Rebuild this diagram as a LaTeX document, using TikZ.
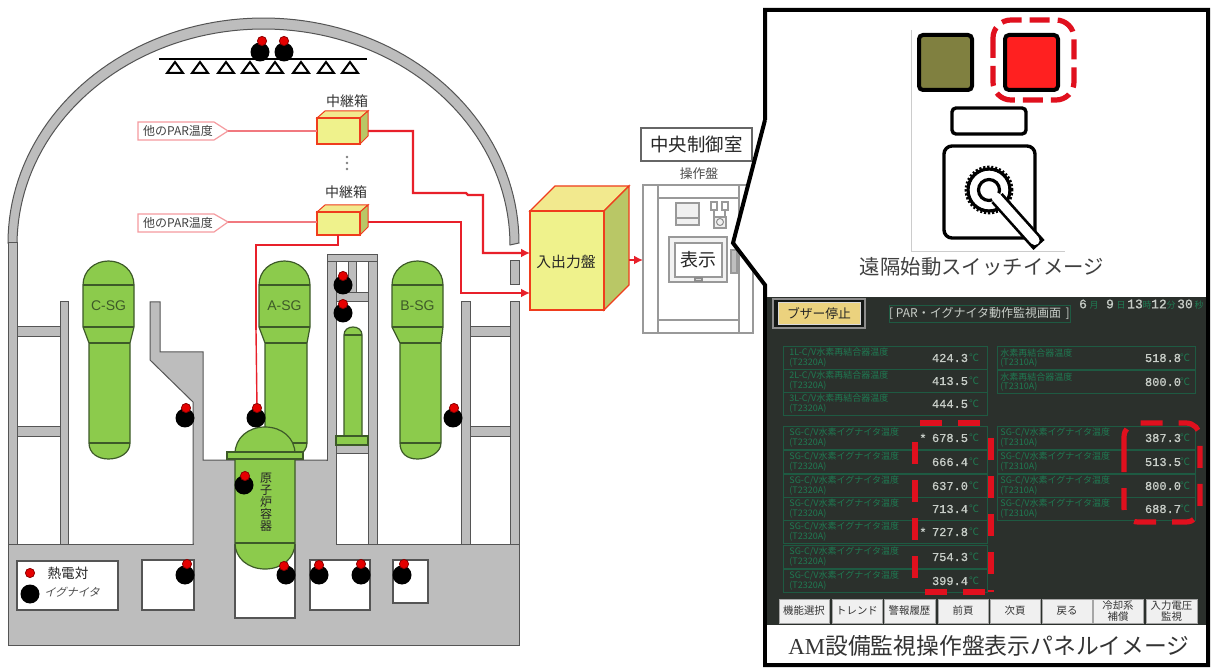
\documentclass[tikz,border=0pt]{standalone}
\usepackage{fontspec}
\setmainfont{Noto Sans CJK JP}
\newfontfamily\latinserif{Liberation Serif}
\newfontfamily\latinsans{Liberation Sans}
\newfontfamily\latinmono{Liberation Mono}[FakeBold=0.8]
\usetikzlibrary{arrows.meta,calc}
\definecolor{wallgray}{HTML}{BDBDBD}
\definecolor{walledge}{HTML}{555555}
\definecolor{sggreen}{HTML}{8CCB4C}
\definecolor{sgedge}{HTML}{3D5A28}
\definecolor{boxyellow}{HTML}{EFF28C}
\definecolor{boxtop}{HTML}{F2E98E}
\definecolor{boxside}{HTML}{B9C766}
\definecolor{wire}{HTML}{E8202A}
\definecolor{scrdark}{HTML}{2B302C}
\definecolor{scrgreen}{HTML}{1F7A52}
\definecolor{scrline}{HTML}{1E5A42}
\definecolor{scrwhite}{HTML}{C8CEC8}
\definecolor{dashred}{HTML}{E0101E}
\definecolor{lampolive}{HTML}{808040}
\definecolor{lampred}{HTML}{FF2020}
\definecolor{btnyellow}{HTML}{EBD27E}
\newcommand\fpx[1]{\fontsize{#1}{#1}\selectfont}
\newcommand\rbox[7]{%
 \pgfmathsetmacro\rcx{(#3+#5)/2}\pgfmathsetmacro\rcy{(#4+#6)/2}%
 \pgfmathsetmacro\rwd{(#5-#3)*0.5}\pgfmathsetmacro\rht{(#6-#4)*0.5}%
 \node[inner sep=0pt,outer sep=0pt,minimum width=\rwd pt,minimum height=\rht pt,#1] (#2) at (\rcx,\rcy) {#7};}
\newcommand\sgvessel[6]{% name x1 x2 bx1 bx2 label
 \pgfmathsetmacro\xc{(#2+#3)/2}\pgfmathsetmacro\ca{\xc-14}\pgfmathsetmacro\cb{\xc+14}%
 \pgfmathsetmacro\da{\xc-11}\pgfmathsetmacro\db{\xc+11}%
 \draw[vessel] (#2,285) .. controls (#2,271) and (\ca,261) .. (\xc,261) .. controls (\cb,261) and (#3,271) .. (#3,285)
  -- (#3,327) -- (#5,343) -- (#5,443) .. controls (#5,453) and (\db,459) .. (\xc,459) .. controls (\da,459) and (#4,453) .. (#4,443)
  -- (#4,343) -- (#2,327) -- cycle;
 \draw[vesselline] (#2,285) -- (#3,285) (#2,327) -- (#3,327) (#4,343) -- (#5,343) (#4,443) -- (#5,443);
 \node[sglabel] (#1) at (\xc,306) {#6};}
\tikzset{
 wall/.style={fill=wallgray,draw=walledge,line width=0.5pt},
 holebox/.style={fill=white,draw=walledge,line width=0.6pt},
 vessel/.style={fill=sggreen,draw=sgedge,line width=0.6pt},
 vesselline/.style={draw=sgedge,line width=0.6pt},
 sglabel/.style={font=\latinsans\fpx{7},text=sgedge,inner sep=0pt},
 blackdot/.style={circle,fill=black,inner sep=0pt,minimum size=9.5pt},
 reddot/.style={circle,fill=red!90!black,draw=red!55!black,line width=0.4pt,inner sep=0pt,minimum size=4.6pt},
 relaybox/.style={fill=boxyellow,draw=wire!70!orange,line width=0.7pt},
 relaytop/.style={fill=boxtop,draw=wire!70!orange,line width=0.5pt},
 relayside/.style={fill=boxside,draw=wire!70!orange,line width=0.5pt},
 wireline/.style={draw=wire,line width=1.2pt},
 wirearrow/.style={draw=wire,line width=1.2pt,-{Latex[length=4.5pt,width=4.5pt]}},
 thinwire/.style={draw=wire!60!white,line width=0.6pt},
 tagshape/.style={fill=white,draw=wire!45!white,line width=0.6pt},
 taglabel/.style={font=\fpx{6},text=black!75,inner sep=0pt},
 paneltext/.style={font=\fpx{7},text=black!80,inner sep=0pt},
 panelline/.style={draw=black!40,line width=0.8pt},
 frameline/.style={draw=black,line width=2pt},
 dashline/.style={draw=dashred,line width=2.6pt,dash pattern=on 11pt off 8pt},
 rowbox/.style={draw=scrline,line width=0.35pt},
 rowlabel/.style={font=\fpx{4.5},text=scrgreen,anchor=west,align=left,inner sep=0pt},
 rowvalue/.style={font=\latinmono\fpx{6},text=scrwhite,inner sep=0pt},
 rowunit/.style={font=\fpx{5},text=scrgreen,inner sep=0pt},
 softkey/.style={fill=black!6,draw=black!35,line width=0.5pt,font=\fpx{5.2},text=black!80,align=center},
 dotmark/.style={circle,fill=black!50,inner sep=0pt,minimum size=1.3pt},
}
\begin{document}
\begin{tikzpicture}[x=0.5pt,y=-0.5pt]
\useasboundingbox (0,0) rectangle (1211,668);
\fill[white] (0,0) rectangle (1211,668);

% dome
\draw[wall] plot[domain=180:0,samples=90] ({263.5+255.5*cos(\x)},{243-225*sin(\x)})
  -- (510,245) -- plot[domain=0:180,samples=90] ({263.5+246.5*cos(\x)},{245-216*sin(\x)}) -- cycle;
% outer walls
\draw[wall] (8,243) rectangle (17,544);
\draw[wall] (510,261) rectangle (519,285);
\draw[wall] (510,302) rectangle (519,544);
\draw[wall] (60,302) rectangle (68,544);
\draw[wall] (461,302) rectangle (470,544);
\foreach \ya/\yb in {327/337,427/436}{
 \draw[wall] (17,\ya) rectangle (60,\yb);
 \draw[wall] (470,\ya) rectangle (510,\yb);
}
% floor and pit
\draw[wall] (8,544) rectangle (519,645);
\draw[wall] (150,302) -- (160,302) -- (160,352) -- (203,352) -- (203,460) -- (327,460) -- (327,544) -- (193,544) -- (193,402) -- (150,360) -- cycle;
\fill[wallgray] (194,461) rectangle (326,548);
\draw[wall] (327,255) rectangle (336,544);
\fill[wallgray] (322,461) rectangle (335.5,548);
\draw[wall] (368,255) rectangle (377,544);
\draw[wall] (327,255) rectangle (377,262);
\draw[wall] (348,262) rectangle (356,293);
\draw[wall] (336,293) rectangle (368,302);
\draw[wall] (336,445) rectangle (368,453);
% holes
\rbox{holebox}{holeA}{142}{560}{194}{610}{}
\rbox{holebox}{holeB}{235}{545}{295}{618}{}
\rbox{holebox}{holeC}{310}{560}{370}{610}{}
\rbox{holebox}{holeD}{393}{560}{428}{603}{}
\rbox{holebox}{legendbox}{17}{561}{118}{610}{}
% vessels
\sgvessel{csg}{83}{134}{89}{130}{C-SG}
\sgvessel{asg}{259}{310}{265}{307}{A-SG}
\sgvessel{bsg}{392}{443}{400}{441}{B-SG}
\draw[vessel] (344,335) .. controls (344,330) and (348,327) .. (353,327) .. controls (358,327) and (362,330) .. (362,335) -- (362,436) -- (344,436) -- cycle;
\draw[vesselline] (344,335) -- (362,335);
\draw[vessel] (336,436) rectangle (368,445);
% reactor
\draw[vessel] (235,454) .. controls (235,438) and (248,427) .. (265,427) .. controls (282,427) and (295,438) .. (295,454) -- (295,543) .. controls (295,558) and (282,569) .. (265,569) .. controls (248,569) and (235,558) .. (235,543) -- cycle;
\draw[vesselline] (235,543) -- (295,543);
\draw[vessel] (227,452) rectangle (303,459);
\node[font=\fpx{6},align=center,text=black!85,inner sep=0pt] (rpv) at (266,502) {原\\子\\炉\\容\\器};
% spray header
\coordinate (sprayL) at (159,59); \coordinate (sprayR) at (367,59);
\draw[black,line width=1pt] (sprayL) -- (sprayR);
\foreach \tx in {175,200,226,250,275,301,326,350}
 \draw[black,line width=1pt,line join=miter] (\tx,62) -- (\tx+8,73) -- (\tx-8,73) -- cycle;
% sensors
\foreach \bx/\by/\rx/\ry [count=\i] in {260/52/262/41,284/52/284/41,343/285/343/276,343/313/343/304,185/418/186/408,256/418/257/408,453/418/454/408,244/485/245/476,185/575/187/564,286/575/284/566,319/575/319/565,361/575/361/564,402/575/404/564}{
 \node[blackdot] (ign\i) at (\bx,\by) {};
 \node[reddot] (tc\i) at (\rx,\ry) {};
}
% legend
\node[reddot] (legtc) at (30,573) {};
\node[blackdot] (legign) at (30,594) {};
\node[font=\fpx{6.8},text=black!85,inner sep=0pt] (legtctext) at (68,573) {熱電対};
\node[font=\fpx{5.6},text=black!70,inner sep=0pt,xslant=0.25] (legigntext) at (73,592) {イグナイタ};

% relay boxes
\foreach \yt/\yb in {118/144,212/235}{
 \draw[relaytop] (317,\yt) -- (325,\yt-7) -- (368,\yt-7) -- (360,\yt) -- cycle;
 \draw[relayside] (360,\yt) -- (368,\yt-7) -- (368,\yb-8) -- (360,\yb) -- cycle;
}
\rbox{relaybox}{relayA}{317}{118}{360}{144}{}
\rbox{relaybox}{relayB}{317}{212}{360}{235}{}
\node[paneltext] (relayAlabel) at (347,101) {中継箱};
\node[paneltext] (relayBlabel) at (346,192) {中継箱};
\node[dotmark] (dotA) at (347,157) {};
\node[dotmark] (dotB) at (347,163) {};
\node[dotmark] (dotC) at (347,169) {};
% tags
\draw[tagshape] (138,122) -- (214,122) -- (228,131) -- (214,140) -- (138,140) -- cycle;
\draw[tagshape] (138,214) -- (214,214) -- (228,222) -- (214,232) -- (138,232) -- cycle;
\coordinate (tagAtip) at (228,131); \coordinate (tagBtip) at (228,222);
\node[taglabel] (tagAtext) at (178,131) {他のPAR温度};
\node[taglabel] (tagBtext) at (178,223) {他のPAR温度};
\draw[thinwire] (tagAtip) -- (relayA.west |- tagAtip);
\draw[thinwire] (tagBtip) -- (relayB.west |- tagBtip);

% input-output panel
\draw[relaytop,line width=0.7pt] (530,211) -- (555,186) -- (629,186) -- (604,211) -- cycle;
\draw[relayside,line width=0.7pt] (604,211) -- (629,186) -- (629,285) -- (604,310) -- cycle;
\rbox{relaybox}{ioPanel}{530}{211}{604}{310}{}
\node[font=\fpx{7.4},text=black!85,inner sep=0pt] (ioText) at (566,262) {入出力盤};
% wires
\coordinate (outA) at (368,131); \coordinate (outB) at (368,222); \coordinate (outC) at (338,235);
\coordinate (inA) at (530,253); \coordinate (inB) at (530,293);
\draw[wirearrow] (outA) -- (413,131) -- (413,193) -- (466,193) -- (468,195) -- (483,195) -- (483,253) -- (inA);
\draw[wirearrow] (outB) -- (461,222) -- (461,293) -- (inB);
\draw[wireline] (outC) -- (338,245) -- (256,245) -- (256,330);
\draw[draw=wire,line width=0.7pt] (256,330) -- (tc6);

% control room
\rbox{draw=black!60,line width=0.6pt,fill=white,font=\fpx{9.2},text=black!85}{ccr}{641}{128}{752}{161}{中央制御室}
\node[font=\fpx{6.4},text=black!70,inner sep=0pt] (opLabel) at (699,174) {操作盤};
\rbox{panelline,fill=white}{opPanel}{643}{185}{753}{333}{}
\draw[panelline] (658,185) -- (658,333) (739,185) -- (739,333) (658,198) -- (739,198) (658,320) -- (739,320);
\draw[panelline,fill=black!6] (676,203) rectangle (699,225);
\draw[panelline] (676,218) -- (699,218);
\draw[panelline] (711,202) rectangle (717,210) (722,202) rectangle (728,210) (714,210) -- (714,217) (725,210) -- (725,217);
\draw[panelline,fill=black!6] (714,217) rectangle (726,228);
\node[circle,draw=black!45,line width=0.5pt,minimum size=3.5pt,inner sep=0pt] (magnifier) at (720,222) {};
\draw[panelline,fill=black!25] (731,250) rectangle (737,273);
\rbox{panelline,fill=black!5}{dispOuter}{669}{237}{727}{282}{}
\rbox{panelline,fill=white,font=\fpx{9},text=black!85}{dispInner}{675}{243}{722}{277}{表示}
\draw[black!45,line width=0.6pt,fill=black!15] (695,278) rectangle (702,281);
\coordinate (ioLevel) at (0,260);
\draw[wirearrow] (629,260) -- (opPanel.west |- ioLevel);

% callout frame
\coordinate (f1) at (765,10); \coordinate (f2) at (1208,10); \coordinate (f3) at (1208,665); \coordinate (f4) at (765,665);
\coordinate (f5) at (765,120); \coordinate (f6) at (733,243); \coordinate (f7) at (765,285);
\fill[white] (f5) -- (f1) -- (f2) -- (f3) -- (f4) -- (f7) -- (f6) -- cycle;
\draw[frameline,line join=miter] (f5) -- (f1) -- (f2) -- (f3) -- (f4) -- (f7) -- (f6) -- (f5);
% remote switch image
\draw[black!20,line width=0.4pt] (911,30) -- (911,251) -- (1065,251);
\rbox{draw=black,line width=2pt,rounded corners=2pt,fill=lampolive}{lampA}{919}{35}{972}{90}{}
\rbox{draw=black,line width=2pt,rounded corners=2pt,fill=lampred}{lampB}{1005}{35}{1058}{90}{}
\draw[draw=dashred,line width=2.6pt,dash pattern=on 10pt off 4pt,rounded corners=9pt] (993,20) rectangle (1074,100);
\rbox{draw=black,line width=1.7pt,rounded corners=2pt,fill=white}{nameplate}{952}{108}{1026}{134}{}
\rbox{draw=black,line width=1.7pt,rounded corners=4pt,fill=white}{switchbody}{944}{146}{1035}{238}{}
\node[circle,draw=black,line width=1.6pt,minimum size=21pt,inner sep=0pt] (knobOuter) at (989,190) {};
\node[circle,draw=black,line width=2.4pt,dash pattern=on 1pt off 0.9pt,minimum size=22pt,inner sep=0pt] (knobGear) at (989,190) {};
\node[circle,draw=black,line width=1.6pt,minimum size=10.5pt,inner sep=0pt] (knobInner) at (989,190) {};
\coordinate (handleEnd) at (1039,245); \coordinate (handleStart) at (997,198);
\draw[black,line width=7.5pt] (handleStart) -- (handleEnd);
\draw[white,line width=4.8pt,line cap=round] (996,197) -- ($(handleEnd)!0.1!(handleStart)$);
\node[font=\fpx{10.2},text=black!75,inner sep=0pt] (switchCaption) at (982,267) {遠隔始動スイッチイメージ};

% screen
\fill[scrdark] (767,297) rectangle (1206,625);
\rbox{fill=black!50!scrdark,draw=black!45,line width=0.6pt}{buzzerOuter}{773}{299}{865}{328}{}
\rbox{fill=btnyellow,draw=black!15,line width=0.5pt,font=\fpx{6.4},text=black!85}{buzzer}{778}{303}{860}{325}{ブザー停止}
\rbox{draw=scrline,line width=0.4pt,font=\fpx{6},text=scrwhite}{title}{889}{305}{1070}{322}{[ PAR・イグナイタ動作監視画面 \,]}
\foreach \tx/\tv in {1083/6,1110/9,1135/13,1159/12,1185/30}{
 \node[font=\latinmono\fpx{6.5},text=scrwhite,inner sep=0pt] at (\tx,304) {\tv};
}
\foreach \tx/\tu in {1094/月,1121/日,1147/時,1171/分,1199/秒}
 \node[font=\fpx{4.5},text=scrgreen,inner sep=0pt] at (\tx,305) {\tu};
% table rows
\foreach \yy/\lab/\val in {358/{1L-C/V水素再結合器温度}/424.3,381/{2L-C/V水素再結合器温度}/413.5,404/{3L-C/V水素再結合器温度}/444.5,
 438/{SG-C/V水素イグナイタ温度}/678.5,462/{SG-C/V水素イグナイタ温度}/666.4,486/{SG-C/V水素イグナイタ温度}/637.0,509/{SG-C/V水素イグナイタ温度}/713.4,532/{SG-C/V水素イグナイタ温度}/727.8,557/{SG-C/V水素イグナイタ温度}/754.3,581/{SG-C/V水素イグナイタ温度}/399.4}{
 \draw[rowbox] (783,\yy-11.5) rectangle (987,\yy+11.5);
 \node[rowlabel] at (789,\yy-5) {\lab};
 \node[rowlabel] at (789,\yy+5) {(T2320A)};
 \node[rowvalue] at (950,\yy) {\val};
 \node[rowunit] at (974,\yy) {℃};
}
\foreach \yy/\lab/\val in {358/水素再結合器温度/518.8,382/水素再結合器温度/800.0,438/{SG-C/V水素イグナイタ温度}/387.3,462/{SG-C/V水素イグナイタ温度}/513.5,486/{SG-C/V水素イグナイタ温度}/800.0,509/{SG-C/V水素イグナイタ温度}/688.7}{
 \draw[rowbox] (997,\yy-11.5) rectangle (1195,\yy+11.5);
 \node[rowlabel] at (1000,\yy-5) {\lab};
 \node[rowlabel] at (1000,\yy+5) {(T2310A)};
 \node[rowvalue] at (1163,\yy) {\val};
 \node[rowunit] at (1185,\yy) {℃};
}
\node[rowvalue] at (923,438) {*};
\node[rowvalue] at (923,532) {*};
% dashed marks on the screen
\draw[dashline] (915,442) -- (915,592);
\draw[dashline] (991,438) -- (991,592);
\draw[dashline] (920,423) -- (990,423);
\draw[dashline] (925,592) -- (990,592);
\draw[dashline,rounded corners=7pt] (1124,450) -- (1124,522) -- (1200,522) -- (1200,423) -- (1124,423) -- (1124,450);
% soft keys
\foreach \xa/\xb/\lab in {779/829/機能選択,832/882/トレンド,884/935/警報履歴,938/988/前頁,990/1040/次頁,1042/1092/戻る,1093/1143/{冷却系\\補償},1146/1197/{入力電圧\\監視}}{
 \rbox{softkey}{key\xa}{\xa}{599}{\xb}{623}{\lab}
}
% caption
\fill[white] (767,625) rectangle (1206,663);
\node[font=\fpx{11.4},text=black!80,inner sep=0pt] (panelCaption) at (989,646) {{\latinserif AM}設備監視操作盤表示パネルイメージ};
\end{tikzpicture}
\end{document}
